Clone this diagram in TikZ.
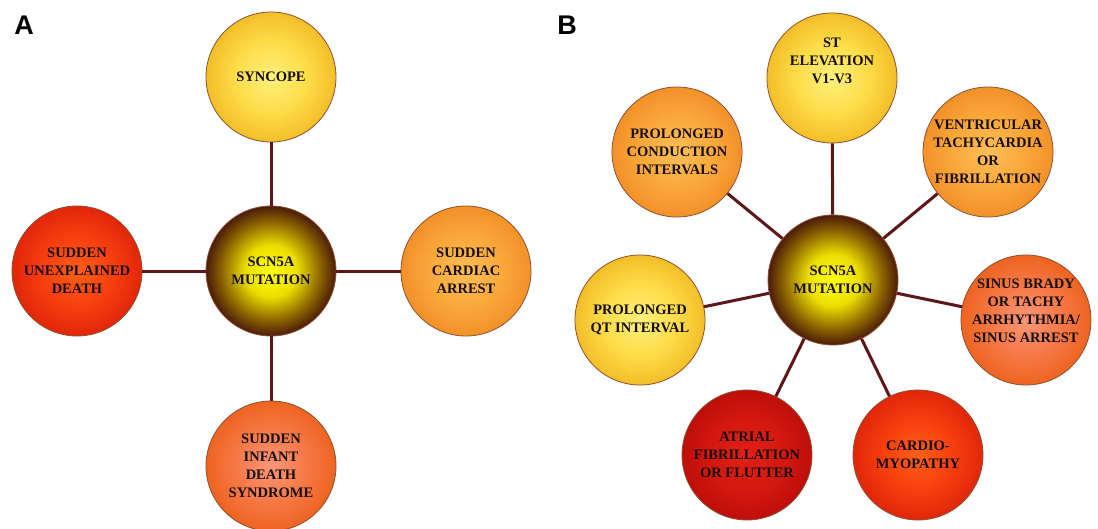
\documentclass[tikz,border=0pt]{standalone}
\usepackage{fontspec}
\setmainfont{Liberation Serif}
\setsansfont{Liberation Sans}
\definecolor{yelC}{RGB}{255,240,125}
\definecolor{yelM}{RGB}{253,220,72}
\definecolor{yelE}{RGB}{243,190,40}
\definecolor{orC}{RGB}{253,190,88}
\definecolor{orM}{RGB}{250,168,58}
\definecolor{orE}{RGB}{242,145,40}
\definecolor{saC}{RGB}{250,150,120}
\definecolor{saM}{RGB}{246,120,70}
\definecolor{saE}{RGB}{238,100,32}
\definecolor{reC}{RGB}{255,95,25}
\definecolor{reM}{RGB}{246,62,14}
\definecolor{reE}{RGB}{225,38,10}
\definecolor{drC}{RGB}{225,32,22}
\definecolor{drM}{RGB}{212,24,16}
\definecolor{drE}{RGB}{190,14,10}
\definecolor{ceC}{RGB}{255,255,10}
\definecolor{ceM}{RGB}{235,222,0}
\definecolor{ceD}{RGB}{140,100,0}
\definecolor{ceE}{RGB}{75,28,10}
\definecolor{bord}{RGB}{140,80,50}
\definecolor{lineC}{RGB}{95,22,25}
\definecolor{txt}{RGB}{22,14,12}
\pgfdeclareradialshading{shyel}{\pgfpoint{0bp}{0bp}}{color(0bp)=(yelC); color(14bp)=(yelM); color(25bp)=(yelE); color(50bp)=(yelE)}
\pgfdeclareradialshading{shor}{\pgfpoint{0bp}{0bp}}{color(0bp)=(orC); color(14bp)=(orM); color(25bp)=(orE); color(50bp)=(orE)}
\pgfdeclareradialshading{shsa}{\pgfpoint{0bp}{0bp}}{color(0bp)=(saC); color(14bp)=(saM); color(25bp)=(saE); color(50bp)=(saE)}
\pgfdeclareradialshading{shre}{\pgfpoint{0bp}{0bp}}{color(0bp)=(reC); color(14bp)=(reM); color(25bp)=(reE); color(50bp)=(reE)}
\pgfdeclareradialshading{shdr}{\pgfpoint{0bp}{0bp}}{color(0bp)=(drC); color(14bp)=(drM); color(25bp)=(drE); color(50bp)=(drE)}
\pgfdeclareradialshading{shce}{\pgfpoint{0bp}{0bp}}{color(0bp)=(ceC); color(10bp)=(ceM); color(19bp)=(ceD); color(25bp)=(ceE); color(50bp)=(ceE)}
\begin{document}
\begin{tikzpicture}[x=1pt,y=-1pt,
  ball/.style={circle, minimum size=130pt, inner sep=0pt, draw=bord, line width=0.8pt,
    align=center, text=txt, font=\bfseries\fontsize{14.5}{18}\selectfont},
  balltext/.style={inner sep=0pt, align=center, text=txt, font=\bfseries\fontsize{14.5}{18}\selectfont},
  conn/.style={draw=lineC, line width=3pt},
  panel/.style={inner sep=0pt, font=\sffamily\bfseries\fontsize{27}{27}\selectfont}]
\useasboundingbox[fill=white] (0,0) rectangle (1098,528);
% Panel A
\node[panel] (la) at (24,25) {A};
\node[ball, shading=shce] (ca) at (271,271) {SCN5A\\MUTATION};
\node[ball, shading=shyel] (syn) at (271,77) {SYNCOPE};
\node[ball, shading=shre] (sud) at (77,271) {SUDDEN\\UNEXPLAINED\\DEATH};
\node[ball, shading=shor] (sca) at (466,271) {SUDDEN\\CARDIAC\\ARREST};
\node[ball, shading=shsa] (sids) at (271,466) {SUDDEN\\INFANT\\DEATH\\SYNDROME};
\draw[conn] (ca) -- (syn);
\draw[conn] (ca) -- (sud);
\draw[conn] (ca) -- (sca);
\draw[conn] (ca) -- (sids);
% Panel B
\node[panel] (lb) at (567,25) {B};
\node[ball, shading=shce] (cb) at (833,280) {SCN5A\\MUTATION};
\node[ball, shading=shyel] (st) at (832,78) {};
\node[balltext] (stt) at (832,61) {ST\\ELEVATION\\V1-V3};
\node[ball, shading=shor] (pci) at (677,152) {PROLONGED\\CONDUCTION\\INTERVALS};
\node[ball, shading=shor] (vt) at (988,152) {VENTRICULAR\\TACHYCARDIA\\OR\\FIBRILLATION};
\node[ball, shading=shyel] (qt) at (640,320) {PROLONGED\\QT INTERVAL};
\node[ball, shading=shsa] (sin) at (1026,320) {};
\node[balltext] (sint) at (1026,311) {SINUS BRADY\\OR TACHY\\ARRHYTHMIA/\\SINUS ARREST};
\node[ball, shading=shdr] (af) at (747,455) {ATRIAL\\FIBRILLATION\\OR FLUTTER};
\node[ball, shading=shre] (cm) at (918,455) {CARDIO-\\MYOPATHY};
\draw[conn] (cb) -- (st);
\draw[conn] (cb) -- (pci);
\draw[conn] (cb) -- (vt);
\draw[conn] (cb) -- (qt);
\draw[conn] (cb) -- (sin);
\draw[conn] (cb) -- (af);
\draw[conn] (cb) -- (cm);
\end{tikzpicture}
\end{document}
